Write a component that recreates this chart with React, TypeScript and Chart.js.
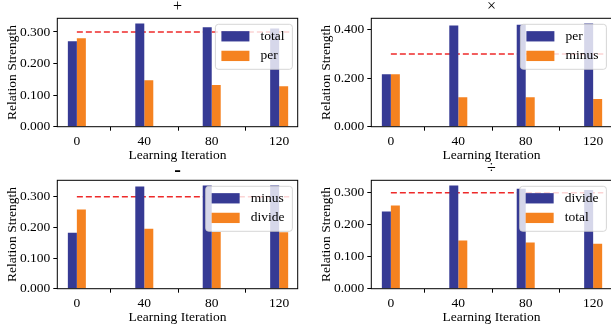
import React, { useEffect, useRef } from "react";
import { Chart, registerables } from "chart.js";

Chart.register(...registerables);

// ---- data ----
const ITER_LABELS = ["0", "40", "80", "120"];
const THRESHOLD = 0.3;
const LINE_X = [0, 3.15];
const X_MIN = -0.29;
const X_MAX = 3.275;

const PLUS_TOTAL = [0.271, 0.327, 0.315, 0.311];
const PLUS_PER = [0.28, 0.1475, 0.132, 0.1285];
const TIMES_PER = [0.216, 0.418, 0.421, 0.426];
const TIMES_MINUS = [0.216, 0.122, 0.122, 0.114];
const MINUS_MINUS = [0.183, 0.334, 0.337, 0.337];
const MINUS_DIVIDE = [0.2585, 0.196, 0.185, 0.184];
const DIVIDE_DIVIDE = [0.2415, 0.323, 0.3125, 0.309];
const DIVIDE_TOTAL = [0.26, 0.1505, 0.1442, 0.141];

const TITLES = ["+", "×", "-", "÷"];
const SERIES_NAMES = [
  ["total", "per"],
  ["per", "minus"],
  ["minus", "divide"],
  ["divide", "total"],
];
const SERIES = [
  [PLUS_TOTAL, PLUS_PER],
  [TIMES_PER, TIMES_MINUS],
  [MINUS_MINUS, MINUS_DIVIDE],
  [DIVIDE_DIVIDE, DIVIDE_TOTAL],
];
const Y_STEPS = [0.1, 0.2, 0.1, 0.1];

// ---- layout / style ----
const LAYOUT = [
  { left: 0, top: 0 },
  { left: 314, top: 0 },
  { left: 0, top: 162 },
  { left: 314, top: 162 },
];
const TITLE_STYLE = [
  { font: "16px", dy: 7 },
  { font: "16px", dy: 7 },
  { font: "bold 20px", dy: 4.5 },
  { font: "16px", dy: 7 },
];
const CANVAS_W = 305;
const CANVAS_H = 165;
const FONT = "'Liberation Serif', 'Times New Roman', serif";
const FS = 13.5;
const BLUE = "#363a94";
const ORANGE = "#f58220";
const RED = "#ee2a2a";

function Panel({ idx }: { idx: number }) {
  const ref = useRef<HTMLCanvasElement | null>(null);

  useEffect(() => {
    const canvas = ref.current;
    if (!canvas) return;
    const names = SERIES_NAMES[idx];
    const series = SERIES[idx];
    const title = TITLES[idx];
    const tStyle = TITLE_STYLE[idx];
    const all = series.flat().concat([THRESHOLD]);
    const yMax = Math.max(...all) * 1.05;

    const overlay = {
      id: "overlay" + idx,
      afterDatasetsDraw(chart: any) {
        const ctx = chart.ctx;
        const ca = chart.chartArea;
        ctx.save();
        // frame
        ctx.strokeStyle = "#000";
        ctx.lineWidth = 1;
        ctx.strokeRect(ca.left, ca.top, ca.right - ca.left, ca.bottom - ca.top);
        // legend
        ctx.font = `${FS}px ${FONT}`;
        const tw = Math.max(...names.map((n) => ctx.measureText(n).width));
        const w = 6 + 28 + 11 + tw + 8;
        const h = 45;
        const x0 = ca.right - 5.3 - w;
        const y0 = ca.top + 6;
        ctx.beginPath();
        if ((ctx as any).roundRect) (ctx as any).roundRect(x0, y0, w, h, 3);
        else ctx.rect(x0, y0, w, h);
        ctx.fillStyle = "rgba(255,255,255,0.8)";
        ctx.fill();
        ctx.strokeStyle = "rgba(204,204,204,0.8)";
        ctx.stroke();
        const colors = [BLUE, ORANGE];
        names.forEach((n, i) => {
          const cy = y0 + 12 + i * 19.6;
          ctx.fillStyle = colors[i];
          ctx.fillRect(x0 + 6, cy - 5.15, 28, 10.3);
          ctx.fillStyle = "#000";
          ctx.textBaseline = "middle";
          ctx.textAlign = "left";
          ctx.fillText(n, x0 + 45, cy);
        });
        // title
        ctx.font = `${tStyle.font} ${FONT}`;
        ctx.textAlign = "center";
        ctx.textBaseline = "alphabetic";
        ctx.fillStyle = "#000";
        ctx.fillText(title, (ca.left + ca.right) / 2, ca.top - tStyle.dy);
        ctx.restore();
      },
    };

    const tickFont = { family: FONT, size: FS };

    const chart = new Chart(canvas, {
      type: "bar",
      data: {
        datasets: [
          {
            type: "bar",
            label: names[0],
            data: series[0].map((v, i) => ({ x: i, y: v })),
            backgroundColor: BLUE,
            borderWidth: 0,
            categoryPercentage: 0.267,
            barPercentage: 1,
            order: 1,
          } as any,
          {
            type: "bar",
            label: names[1],
            data: series[1].map((v, i) => ({ x: i, y: v })),
            backgroundColor: ORANGE,
            borderWidth: 0,
            categoryPercentage: 0.267,
            barPercentage: 1,
            order: 1,
          } as any,
          {
            type: "line",
            label: "threshold",
            data: LINE_X.map((x) => ({ x, y: THRESHOLD })),
            borderColor: RED,
            borderWidth: 1.5,
            borderDash: [6, 3],
            pointRadius: 0,
            fill: false,
            order: 5,
          } as any,
        ],
      },
      options: {
        animation: false,
        responsive: false,
        maintainAspectRatio: false,
        devicePixelRatio: 1,
        layout: { padding: { top: 18.3, right: 7.3, bottom: 0, left: 0 } },
        plugins: {
          legend: { display: false },
          tooltip: { enabled: false },
          title: { display: false },
        },
        scales: {
          x: {
            type: "linear",
            min: X_MIN,
            max: X_MAX,
            offset: false,
            afterBuildTicks: (s: any) => {
              s.ticks = ITER_LABELS.map((_, i) => ({ value: i }));
            },
            afterFit: (s: any) => {
              s.height = 38.3;
            },
            ticks: {
              callback: (v: any) => ITER_LABELS[v as number] ?? "",
              color: "#000",
              font: tickFont,
              padding: 3,
              maxRotation: 0,
              autoSkip: false,
            },
            grid: {
              display: true,
              drawOnChartArea: false,
              drawTicks: true,
              tickLength: 4,
              color: "#000",
            },
            border: { display: false },
            title: {
              display: true,
              text: "Learning Iteration",
              color: "#000",
              font: tickFont,
              padding: { top: 0, bottom: 1.5 },
            },
          },
          y: {
            type: "linear",
            min: 0,
            max: yMax,
            afterFit: (s: any) => {
              s.width = 57.3;
            },
            ticks: {
              stepSize: Y_STEPS[idx],
              includeBounds: false,
              callback: (v: any) => Number(v).toFixed(3),
              color: "#000",
              font: tickFont,
              padding: 3,
            },
            grid: {
              display: true,
              drawOnChartArea: false,
              drawTicks: true,
              tickLength: 4,
              color: "#000",
            },
            border: { display: false },
            title: {
              display: true,
              text: "Relation Strength",
              color: "#000",
              font: tickFont,
              padding: { top: 4, bottom: 0 },
            },
          },
        },
      } as any,
      plugins: [overlay],
    });
    return () => chart.destroy();
  }, [idx]);

  const pos = LAYOUT[idx];
  return (
    <canvas
      ref={ref}
      width={CANVAS_W}
      height={CANVAS_H}
      style={{
        position: "absolute",
        left: pos.left,
        top: pos.top,
        width: CANVAS_W,
        height: CANVAS_H,
      }}
    />
  );
}

export default function App() {
  return (
    <div
      style={{
        position: "fixed",
        left: 0,
        top: 0,
        width: 611,
        height: 331,
        overflow: "hidden",
        background: "#fff",
      }}
    >
      {[0, 1, 2, 3].map((i) => (
        <Panel key={i} idx={i} />
      ))}
    </div>
  );
}
